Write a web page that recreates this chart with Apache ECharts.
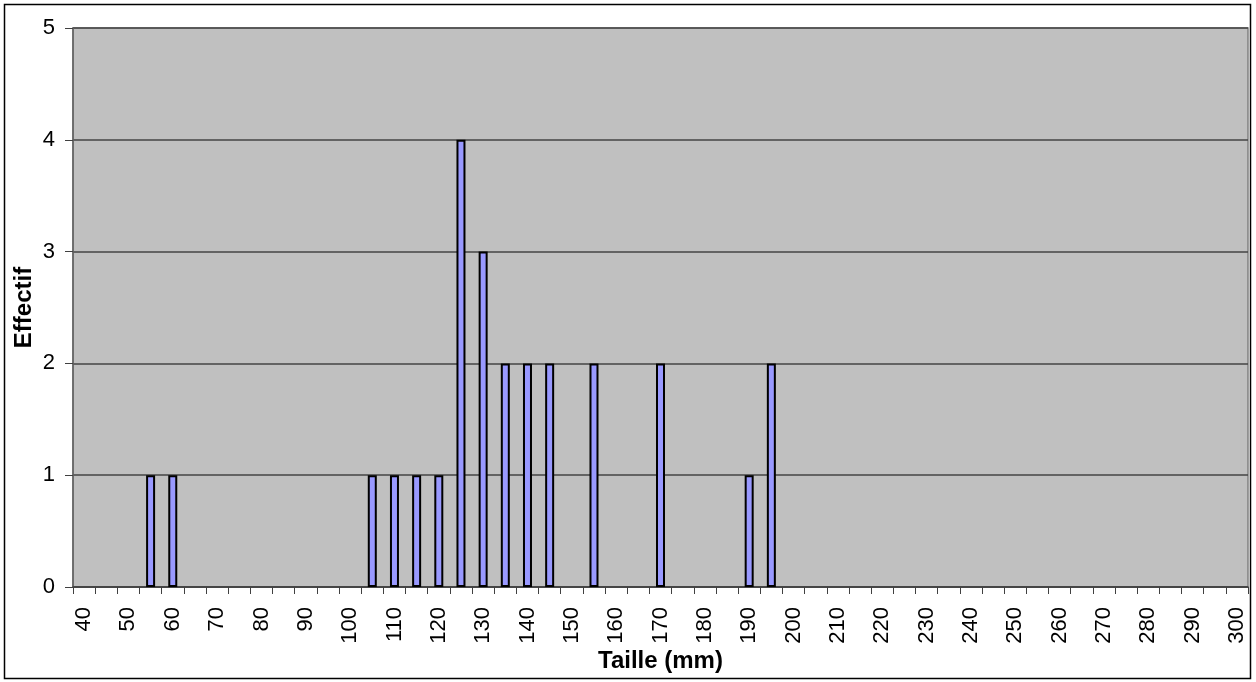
<!DOCTYPE html>
<html>
<head>
<meta charset="utf-8">
<script src="https://cdn.jsdelivr.net/npm/echarts@6/dist/echarts.min.js"></script>
<style>
html,body{margin:0;padding:0;background:#fff;}
#c{width:1256px;height:682px;}
</style>
</head>
<body>
<div id="c"></div>
<script>
const categories = ['40','45','50','55','60','65','70','75','80','85','90','95','100','105','110','115','120','125','130','135','140','145','150','155','160','165','170','175','180','185','190','195','200','205','210','215','220','225','230','235','240','245','250','255','260','265','270','275','280','285','290','295','300'];
const effectif = [0,0,0,1,1,0,0,0,0,0,0,0,0,1,1,1,1,4,3,2,2,2,0,2,0,0,2,0,0,0,1,2,0,0,0,0,0,0,0,0,0,0,0,0,0,0,0,0,0,0,0,0,0];
const yTicks = [0,1,2,3,4,5];
const xTitle = 'Taille (mm)';
const yTitle = 'Effectif';

const chart = echarts.init(document.getElementById('c'), null, {renderer:'canvas'});
const font = 'Liberation Sans, Arial, sans-serif';
chart.setOption({
  animation:false,
  graphic:[{
    type:'rect', z:-10,
    shape:{x:4.5,y:4.5,width:1246,height:674},
    style:{fill:'#fff',stroke:'#000',lineWidth:1.5}
  }],
  grid:{left:73,right:8,top:28,bottom:95,containLabel:false,outerBoundsMode:'none',show:true,backgroundColor:'#C0C0C0',borderColor:'#808080',borderWidth:1.5},
  xAxis:{
    type:'category', data:categories, boundaryGap:true,
    name:xTitle, nameLocation:'middle', nameGap:62, nameMoveOverlap:false,
    nameTextStyle:{fontFamily:font,fontSize:24,fontWeight:'bold',color:'#000'},
    axisLine:{lineStyle:{color:'#404040',width:1.5}},
    axisTick:{show:true,interval:0,length:7,lineStyle:{color:'#404040',width:1}},
    axisLabel:{interval:1,rotate:90,align:'right',verticalAlign:'middle',fontFamily:font,fontSize:22,color:'#000',margin:20,hideOverlap:false}
  },
  yAxis:{
    type:'value', min:yTicks[0], max:yTicks[yTicks.length-1], interval:1,
    name:yTitle, nameLocation:'middle', nameGap:37, nameRotate:90, nameMoveOverlap:false,
    nameTextStyle:{fontFamily:font,fontSize:24,fontWeight:'bold',color:'#000'},
    axisLine:{show:true,lineStyle:{color:'#606060',width:1.5}},
    axisTick:{show:true,length:8,lineStyle:{color:'#404040',width:1}},
    axisLabel:{fontFamily:font,fontSize:22,color:'#000',margin:18},
    splitLine:{lineStyle:{color:'#454545',width:1.5}}
  },
  series:[{
    type:'bar',
    data:effectif.map(v=>v===0?'-':v),
    barWidth:9,
    itemStyle:{color:'#9999FF',borderColor:'#000',borderWidth:2}
  }]
});
</script>
</body>
</html>
